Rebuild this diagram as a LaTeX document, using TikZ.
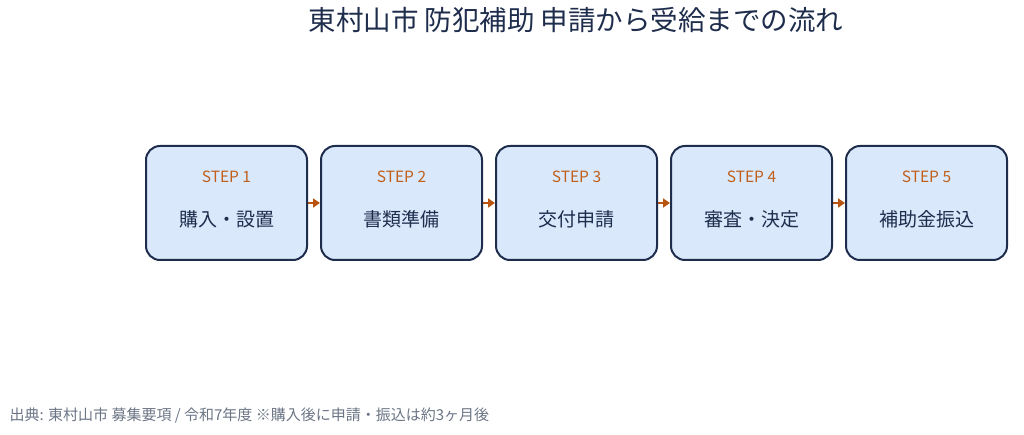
\documentclass[tikz,border=0pt]{standalone}
\usepackage{fontspec}
\setmainfont{Noto Sans CJK JP}
\usetikzlibrary{arrows.meta}
\definecolor{boxfill}{HTML}{DAE8FC}
\definecolor{boxdraw}{HTML}{1F2D4D}
\definecolor{steporange}{HTML}{C0601A}
\definecolor{arroworange}{HTML}{B85410}
\definecolor{foot}{HTML}{6B7585}
\tikzset{
  x=1pt,y=-1pt,
  stepbox/.style={draw=boxdraw,line width=2pt,fill=boxfill,rounded corners=14pt,minimum width=161pt,minimum height=114pt,inner sep=0pt},
  lbl/.style={text=steporange,font=\fontsize{15.5}{18}\selectfont},
  main/.style={text=boxdraw,font=\fontsize{19}{22}\selectfont},
  conn/.style={draw=arroworange,line width=2.5pt,-{Triangle[length=7pt,width=9pt]}}
}
\begin{document}
\begin{tikzpicture}
\useasboundingbox (0,0) rectangle (1024,435);
\node[text=boxdraw,font=\fontsize{27.5}{30}\selectfont] (title) at (576,20) {東村山市 防犯補助 申請から受給までの流れ};
\foreach \i/\t in {1/購入・設置,2/書類準備,3/交付申請,4/審査・決定,5/補助金振込}{
  \node[stepbox] (b\i) at ({226.5+175*(\i-1)},203) {};
  \node[lbl] (s\i) at ({226.5+175*(\i-1)},177) {STEP \i};
  \node[main] (m\i) at ({226.5+175*(\i-1)},219) {\t};
}
\foreach \a/\b in {1/2,2/3,3/4,4/5}{\draw[conn] (b\a.east) -- (b\b.west);}
\node[anchor=west,text=foot,font=\fontsize{15}{17}\selectfont] (foot) at (6,416) {出典: 東村山市 募集要項 / 令和7年度 ※購入後に申請・振込は約3ヶ月後};
\end{tikzpicture}
\end{document}
